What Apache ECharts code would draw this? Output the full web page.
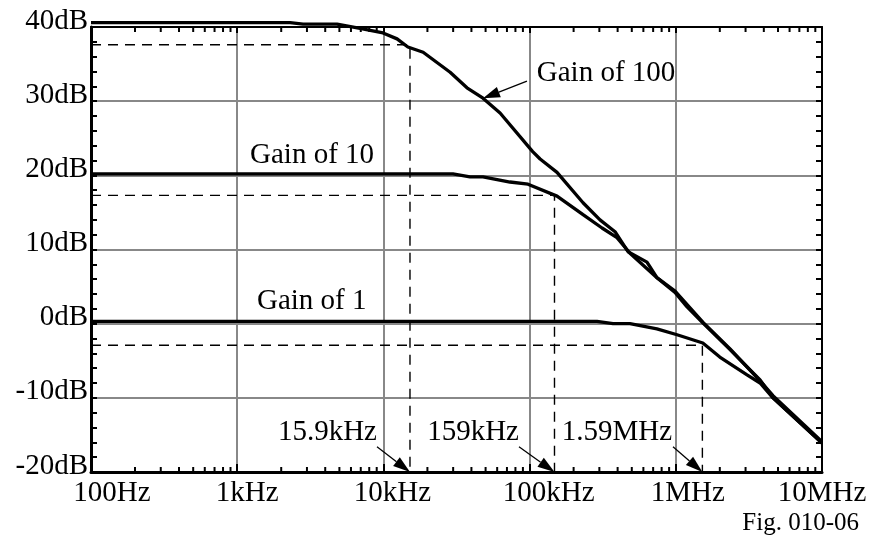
<!DOCTYPE html>
<html>
<head>
<meta charset="utf-8">
<script src="https://cdn.jsdelivr.net/npm/echarts@6/dist/echarts.min.js"></script>
<style>
html,body{margin:0;padding:0;background:#fff;}
#chart{width:873px;height:540px;}
</style>
</head>
<body>
<div id="chart"></div>
<script>
// ---- data ----
const freqTicks = [100, 1e3, 1e4, 1e5, 1e6, 1e7];
const freqTickLabels = ['100Hz', '1kHz', '10kHz', '100kHz', '1MHz', '10MHz'];
const minorMultipliers = [2, 3, 4, 5, 6, 7, 8, 9];

const gain100Freq = [100, 2.30e3, 2.82e3, 4.82e3, 6.92e3, 9.94e3, 12.4e3, 14.7e3, 18.7e3, 28.6e3, 37.3e3, 48.0e3, 62.8e3, 105e3, 118e3, 154e3, 232e3, 303e3, 384e3, 471e3, 635e3, 743e3, 988e3, 1.19e6, 1.53e6, 2.35e6, 3.77e6, 4.62e6, 1e7];
const gain100dB   = [40.6, 40.6, 40.4, 40.4, 39.8, 39.2, 38.4, 37.3, 36.6, 33.9, 31.8, 30.4, 28.4, 23.2, 22.2, 20.4, 16.3, 14.0, 12.4, 9.7, 8.3, 6.2, 4.2, 2.3, 0.1, -3.5, -7.6, -10.0, -16.1];

const gain10Freq = [100, 29.9e3, 39.1e3, 48.0e3, 73.4e3, 97.5e3, 154e3, 232e3, 313e3, 396e3, 486e3, 743e3, 988e3, 1.53e6, 2.35e6, 3.77e6, 4.62e6, 1e7];
const gain10dB   = [20.2, 20.2, 19.8, 19.8, 19.1, 18.8, 17.2, 14.7, 12.9, 11.6, 9.5, 6.2, 4.4, 0.2, -3.4, -7.7, -9.7, -15.9];

const gain1Freq = [100, 289e3, 372e3, 486e3, 743e3, 1.02e6, 1.53e6, 2.00e6, 3.07e6, 3.77e6, 4.62e6, 1e7];
const gain1dB   = [0.3, 0.3, 0.0, 0.0, -0.7, -1.5, -2.6, -4.5, -6.9, -8.0, -10.0, -16.1];

const cornerFreqs  = [15.2e3, 148e3, 1.52e6];
const cornerLevels = [37.6, 17.3, -2.9];
const cornerLabels = ['15.9kHz', '159kHz', '1.59MHz'];
const cornerLabelAt   = [[9.04e3, -14.6], [84.6e3, -14.6], [942e3, -14.6]];
const cornerArrowFrom = [[9.04e3, -16.6], [84.6e3, -16.6], [957e3, -16.6]];

const curveLabels  = ['Gain of 100', 'Gain of 10', 'Gain of 1'];
const curveLabelAt = [[112e3, 33.7], [1.224e3, 22.7], [1.366e3, 2.94]];
const gain100ArrowFrom = [95.9e3, 32.7];
const gain100ArrowTo   = [48.0e3, 30.4];

const yMin = -20, yMax = 40, yStep = 10;

// ---- styling ----
const FONT = 'Liberation Serif';
const xLabelShift = [21, 10, 9, 19, 12, 0];

const zip = (a, b) => a.map((v, i) => [v, b[i]]);

const minorTickFreqs = [];
freqTicks.slice(0, -1).forEach(d => minorMultipliers.forEach(m => minorTickFreqs.push(d * m)));

const rich = {};
xLabelShift.forEach((s, i) => {
  rich['s' + i] = { fontFamily: FONT, fontSize: 29, color: '#000', padding: [0, 0, 0, 2 * s] };
});

function curveSeries(fx, dy) {
  return {
    type: 'line', data: zip(fx, dy), showSymbol: false, symbol: 'none', clip: false,
    lineStyle: { color: '#000', width: 3.3 }, z: 5, silent: true
  };
}

const dashedSeries = cornerFreqs.map((f, i) => ({
  type: 'line', showSymbol: false, symbol: 'none', clip: false, silent: true, z: 4,
  data: [[freqTicks[0], cornerLevels[i]], [f, cornerLevels[i]], [f, yMin]],
  lineStyle: { color: '#000', width: 1.4, type: [10, 7] }
}));

const arrowData = cornerArrowFrom.map((p, i) => [p[0], p[1], cornerFreqs[i], yMin]);
arrowData.push([gain100ArrowFrom[0], gain100ArrowFrom[1], gain100ArrowTo[0], gain100ArrowTo[1]]);

const labelData = [];
curveLabels.forEach((t, i) => labelData.push([curveLabelAt[i][0], curveLabelAt[i][1], i, 0]));
cornerLabels.forEach((t, i) => labelData.push([cornerLabelAt[i][0], cornerLabelAt[i][1], i, 1]));

const chart = echarts.init(document.getElementById('chart'), null, { renderer: 'canvas' });
chart.setOption({
  animation: false,
  backgroundColor: '#fff',
  textStyle: { fontFamily: FONT },
  title: {
    text: 'Fig. 010-06', right: 14, top: 511, padding: 0,
    textStyle: { fontFamily: FONT, fontSize: 25, fontWeight: 'normal', color: '#000' }
  },
  grid: { left: 91, right: 51, top: 27, bottom: 68 },
  xAxis: [
    {
      type: 'log', logBase: 10, min: freqTicks[0], max: freqTicks[freqTicks.length - 1], position: 'bottom',
      axisLine: { onZero: false, lineStyle: { color: '#000', width: 3 } },
      axisTick: { inside: true, length: 8, lineStyle: { color: '#000', width: 2 } },
      splitLine: { show: true, lineStyle: { color: '#888', width: 2 } },
      minorTick: { show: false }, minorSplitLine: { show: false },
      axisLabel: {
        margin: 7, color: '#000', fontSize: 29, fontFamily: FONT,
        formatter: function (v) {
          const i = Math.round(Math.log10(v)) - 2;
          return '{s' + i + '|' + freqTickLabels[i] + '}';
        },
        rich: rich
      }
    },
    {
      type: 'log', logBase: 10, min: freqTicks[0], max: freqTicks[freqTicks.length - 1], position: 'top',
      axisLine: { onZero: false, lineStyle: { color: '#000', width: 2 } },
      axisTick: { inside: true, length: 6, lineStyle: { color: '#000', width: 2 } },
      splitLine: { show: false }, axisLabel: { show: false }
    }
  ],
  yAxis: [
    {
      type: 'value', min: yMin, max: yMax, interval: yStep, position: 'left',
      axisLine: { show: true, onZero: false, lineStyle: { color: '#000', width: 3 } },
      axisTick: { show: true, inside: true, length: 6, lineStyle: { color: '#000', width: 2 } },
      minorTick: { show: true, splitNumber: 5, length: 6, lineStyle: { color: '#000', width: 2 } },
      splitLine: { show: true, lineStyle: { color: '#888', width: 2 } },
      axisLabel: {
        formatter: v => '{d|' + v + 'dB}', color: '#000', fontSize: 29, fontFamily: FONT, margin: 3,
        rich: { d: { fontFamily: FONT, fontSize: 29, color: '#000', padding: [0, 0, 12, 0] } }
      }
    },
    {
      type: 'value', min: yMin, max: yMax, interval: yStep, position: 'right',
      axisLine: { show: true, onZero: false, lineStyle: { color: '#000', width: 2 } },
      axisTick: { show: true, inside: true, length: 6, lineStyle: { color: '#000', width: 2 } },
      minorTick: { show: true, splitNumber: 5, length: 6, lineStyle: { color: '#000', width: 2 } },
      splitLine: { show: false }, axisLabel: { show: false }
    }
  ],
  series: [
    {
      type: 'custom', silent: true, z: 3, clip: false,
      data: minorTickFreqs.map(f => [f, yMin]),
      encode: { x: 0, y: 1 },
      renderItem: function (params, api) {
        const f = api.value(0);
        const b = api.coord([f, yMin]);
        const t = api.coord([f, yMax]);
        return {
          type: 'group', children: [
            { type: 'line', shape: { x1: b[0], y1: b[1], x2: b[0], y2: b[1] - 5 }, style: { stroke: '#000', lineWidth: 2 } },
            { type: 'line', shape: { x1: t[0], y1: t[1], x2: t[0], y2: t[1] + 5 }, style: { stroke: '#000', lineWidth: 2 } }
          ]
        };
      }
    },
    ...dashedSeries,
    curveSeries(gain100Freq, gain100dB),
    curveSeries(gain10Freq, gain10dB),
    curveSeries(gain1Freq, gain1dB),
    {
      type: 'custom', silent: true, z: 6, clip: false,
      data: arrowData,
      encode: { x: [0, 2], y: [1, 3] },
      renderItem: function (params, api) {
        const p0 = api.coord([api.value(0), api.value(1)]);
        const p1 = api.coord([api.value(2), api.value(3)]);
        const dx = p1[0] - p0[0], dy = p1[1] - p0[1];
        const len = Math.sqrt(dx * dx + dy * dy);
        const ux = dx / len, uy = dy / len;
        const hl = 17, hw = 5.5;
        const bx = p1[0] - ux * hl, by = p1[1] - uy * hl;
        return {
          type: 'group', children: [
            { type: 'line', shape: { x1: p0[0], y1: p0[1], x2: bx, y2: by }, style: { stroke: '#000', lineWidth: 1.3 } },
            { type: 'polygon', shape: { points: [[p1[0], p1[1]], [bx - uy * hw, by + ux * hw], [bx + uy * hw, by - ux * hw]] }, style: { fill: '#000' } }
          ]
        };
      }
    },
    {
      type: 'custom', silent: true, z: 7, clip: false,
      data: labelData,
      encode: { x: 0, y: 1 },
      renderItem: function (params, api) {
        const p = api.coord([api.value(0), api.value(1)]);
        const idx = api.value(2), kind = api.value(3);
        const txt = kind === 0 ? curveLabels[idx] : cornerLabels[idx];
        return {
          type: 'text', x: p[0], y: p[1],
          style: { text: txt, font: '29px "' + FONT + '"', fill: '#000', align: kind === 0 ? 'left' : 'right', verticalAlign: 'middle' }
        };
      }
    }
  ]
});
</script>
</body>
</html>
